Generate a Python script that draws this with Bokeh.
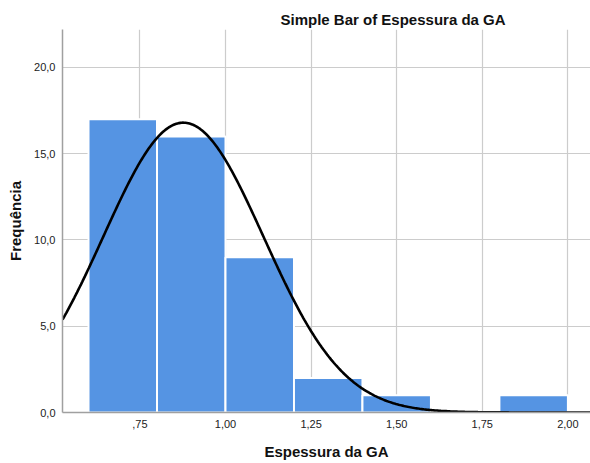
import numpy as np
from bokeh.plotting import figure
from bokeh.models import Range1d, FixedTicker
from bokeh.embed import file_html
from bokeh.resources import INLINE

# Data
bin_left = [0.6, 0.8, 1.0, 1.2, 1.4, 1.8]
bin_right = [0.8, 1.0, 1.2, 1.4, 1.6, 2.0]
counts = [17, 16, 9, 2, 1, 1]
x_ticks = [0.75, 1.0, 1.25, 1.5, 1.75, 2.0]
x_tick_labels = [",75", "1,00", "1,25", "1,50", "1,75", "2,00"]
y_ticks = [0, 5, 10, 15, 20]
y_tick_labels = ["0,0", "5,0", "10,0", "15,0", "20,0"]
# fitted normal curve parameters
curve_mean = 0.877
curve_sd = 0.234
curve_peak = 16.8

FONT = "Liberation Sans"

p = figure(width=590, height=463, output_backend="svg", toolbar_location=None,
           x_range=Range1d(0.524, 2.066), y_range=Range1d(0, 22.2),
           min_border_left=62, min_border_right=0, min_border_top=29,
           min_border_bottom=51)

p.title.text = "Simple Bar of Espessura da GA"
p.title.text_font = FONT
p.title.text_font_size = "15px"
p.title.text_font_style = "bold"
p.title.align = "left"
p.title.offset = 218
p.title.standoff = 4
p.title.text_color = "#111111"

p.quad(left=bin_left, right=bin_right, top=counts, bottom=0,
       fill_color="#5594e3", line_color="white", line_width=2)

xs = np.linspace(0.524, 2.066, 400)
ys = curve_peak * np.exp(-((xs - curve_mean) ** 2) / (2 * curve_sd ** 2))
p.line(xs, ys, line_color="black", line_width=2.6)

p.outline_line_color = None
p.background_fill_color = "white"

p.xaxis.ticker = FixedTicker(ticks=x_ticks)
p.xaxis.major_label_overrides = dict(zip(x_ticks, x_tick_labels))
p.yaxis.ticker = FixedTicker(ticks=y_ticks)
p.yaxis.major_label_overrides = dict(zip(y_ticks, y_tick_labels))

for ax in (p.xaxis, p.yaxis):
    ax.major_tick_line_color = None
    ax.minor_tick_line_color = None
    ax.axis_line_color = "#a0a0a0"
    ax.axis_line_width = 1.5
    ax.major_label_text_font = FONT
    ax.major_label_text_font_size = "11px"
    ax.major_label_text_color = "#222222"
    ax.axis_label_text_font = FONT
    ax.axis_label_text_font_size = "15px"
    ax.axis_label_text_font_style = "bold"
    ax.axis_label_text_color = "#111111"

p.xaxis.axis_label = "Espessura da GA"
p.yaxis.axis_label = "Frequência"
p.xaxis.major_label_standoff = 1
p.xaxis.axis_label_standoff = 12
p.yaxis.major_label_standoff = 1
p.yaxis.axis_label_standoff = 7

p.xgrid.grid_line_color = "#cccccc"
p.ygrid.grid_line_color = "#cccccc"
p.xgrid.grid_line_width = 1.2
p.ygrid.grid_line_width = 1.2
p.xgrid.ticker = FixedTicker(ticks=x_ticks)
p.ygrid.ticker = FixedTicker(ticks=y_ticks)

open("out.html", "w").write(file_html(p, INLINE))
